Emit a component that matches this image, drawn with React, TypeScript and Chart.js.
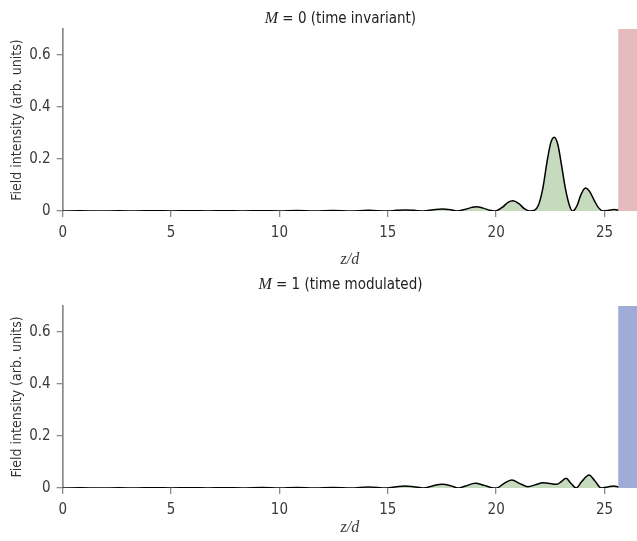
import { useEffect, useRef } from "react";
import { Chart, registerables } from "chart.js";

Chart.register(...registerables);

// Field intensity along the structure, time-invariant case (M = 0)
const zInvariant = [
  0, 0.8, 1.7, 2.6, 3.4, 4.2, 5.0, 5.9, 6.7, 7.5, 8.3, 9.2, 10.0, 10.8, 11.6, 12.5, 13.3,
  14.1, 14.95, 15.4, 15.8, 16.2, 16.65, 17.1, 17.5, 17.9, 18.18, 18.6, 18.9, 19.1, 19.4,
  19.7, 19.95, 20.3, 20.55, 20.78, 21.05, 21.3, 21.56, 21.75, 21.95, 22.15, 22.35, 22.52,
  22.68, 22.85, 23.02, 23.2, 23.38, 23.52, 23.62, 23.75, 23.9, 24.12, 24.32, 24.52, 24.72,
  24.95, 25.2, 25.45, 25.7, 26.0, 26.5,
];
const fieldInvariant = [
  0, 0.0005, 0, 0.0008, 0, 0.001, 0, 0.001, 0, 0.0012, 0, 0.0012, 0, 0.0015, 0, 0.0015, 0,
  0.0025, 0, 0.0025, 0.004, 0.0025, 0, 0.005, 0.008, 0.005, 0, 0.007, 0.014, 0.016, 0.011,
  0.003, 0, 0.015, 0.033, 0.039, 0.028, 0.009, 0, 0.002, 0.022, 0.085, 0.19, 0.262,
  0.284, 0.255, 0.175, 0.085, 0.022, 0, 0.005, 0.024, 0.06, 0.088, 0.074, 0.042, 0.013,
  0, 0.003, 0.006, 0.002, 0, 0,
];

// Field intensity along the structure, time-modulated case (M = 1)
const zModulated = [
  0, 0.8, 1.7, 2.6, 3.4, 4.2, 5.0, 5.9, 6.7, 7.5, 8.3, 9.2, 10.0, 10.8, 11.6, 12.5, 13.3,
  14.1, 14.95, 15.4, 15.8, 16.2, 16.65, 17.1, 17.5, 17.9, 18.25, 18.6, 19.03, 19.45,
  19.75, 20.03, 20.35, 20.72, 21.1, 21.47, 21.8, 22.17, 22.5, 22.8, 23.0, 23.23, 23.45,
  23.69, 23.95, 24.29, 24.55, 24.85, 25.15, 25.41, 25.65, 26.0, 26.5,
];
const fieldModulated = [
  0, 0.0005, 0, 0.0008, 0, 0.001, 0, 0.0012, 0, 0.0012, 0, 0.0015, 0, 0.0018, 0, 0.002, 0,
  0.004, 0, 0.005, 0.008, 0.005, 0, 0.009, 0.014, 0.009, 0, 0.008, 0.018, 0.01,
  0.002, 0, 0.017, 0.031, 0.017, 0.005, 0.012, 0.02, 0.017, 0.014, 0.024, 0.037, 0.018,
  0, 0.025, 0.05, 0.028, 0, 0.004, 0.008, 0.004, 0, 0,
];

const xTicks = [0, 5, 10, 15, 20, 25];
const yTicks = [0, 0.2, 0.4, 0.6];
const slabStart = 25.63;
const slabEnd = 26.5;
const yMax = 0.7;

const SANS = "'Liberation Sans Narrow', 'Arial Narrow', 'DejaVu Sans Condensed', sans-serif";
const SERIF = "'Liberation Serif', 'DejaVu Serif', serif";
const TEXT = "#3a3a3a";
const AXIS = "#8a8a8a";
const FILL = "#c6dbbd";

// Title with an italic math symbol followed by plain text, centred over the field region
const mathTitle = {
  id: "mathTitle",
  afterDraw(chart: any, _args: any, opts: any) {
    const { ctx, scales } = chart;
    const x = scales.x;
    const cx = (x.getPixelForValue(0) + x.getPixelForValue(slabStart)) / 2;
    ctx.save();
    ctx.textBaseline = "alphabetic";
    ctx.textAlign = "left";
    ctx.fillStyle = "#222222";
    const symFont = `italic 16px ${SERIF}`;
    const restFont = `15px ${SANS}`;
    ctx.font = symFont;
    const wSym = ctx.measureText(opts.symbol).width;
    ctx.font = restFont;
    const wRest = ctx.measureText(opts.rest).width;
    let left = cx - (wSym + wRest) / 2;
    ctx.font = symFont;
    ctx.fillText(opts.symbol, left, opts.baseline);
    left += wSym;
    ctx.font = restFont;
    ctx.fillText(opts.rest, left, opts.baseline);
    ctx.restore();
  },
};

function buildConfig(
  z: number[],
  field: number[],
  slabColor: string,
  symbol: string,
  rest: string,
  layout: { top: number; xHeight: number; titleBaseline: number; xTitlePad: number }
): any {
  return {
    type: "line",
    data: {
      datasets: [
        {
          data: [
            { x: slabStart, y: yMax },
            { x: slabEnd, y: yMax },
          ],
          fill: "origin",
          backgroundColor: slabColor,
          borderWidth: 0,
          pointRadius: 0,
        },
        {
          data: z.map((v, i) => ({ x: v, y: field[i] })),
          fill: "origin",
          backgroundColor: FILL,
          borderColor: "#000000",
          borderWidth: 1.5,
          pointRadius: 0,
          cubicInterpolationMode: "monotone",
        },
      ],
    },
    options: {
      animation: false,
      responsive: false,
      maintainAspectRatio: false,
      layout: { padding: { top: layout.top, left: 0, right: 0, bottom: 0 } },
      plugins: {
        legend: { display: false },
        tooltip: { enabled: false },
        mathTitle: { symbol: symbol, rest: rest, baseline: layout.titleBaseline },
      },
      scales: {
        x: {
          type: "linear",
          min: 0,
          max: slabEnd,
          afterBuildTicks: (s: any) => {
            s.ticks = xTicks.map((v) => ({ value: v }));
          },
          afterFit: (s: any) => {
            s.height = layout.xHeight;
          },
          border: { display: false },
          grid: { drawOnChartArea: false, tickLength: 6, color: AXIS, lineWidth: 1.3 },
          ticks: {
            color: TEXT,
            padding: 7,
            maxRotation: 0,
            font: { family: SANS, size: 15 },
            callback: (v: any) => String(v),
          },
          title: {
            display: true,
            text: "z/d",
            color: TEXT,
            font: { family: SERIF, style: "italic", size: 16 },
            padding: { top: 0, bottom: layout.xTitlePad },
          },
        },
        y: {
          min: 0,
          max: yMax,
          afterBuildTicks: (s: any) => {
            s.ticks = yTicks.map((v) => ({ value: v }));
          },
          afterFit: (s: any) => {
            s.width = 62.7;
          },
          border: { display: true, color: AXIS, width: 1.7 },
          grid: { drawOnChartArea: false, tickLength: 6, color: AXIS, lineWidth: 1.3 },
          ticks: {
            color: TEXT,
            padding: 6,
            font: { family: SANS, size: 15 },
            callback: (v: any) => (v === 0 ? "0" : Number(v).toFixed(1)),
          },
          title: {
            display: true,
            text: "Field intensity (arb. units)",
            color: "#333333",
            font: { family: SANS, size: 14 },
            padding: { top: 9, bottom: 0 },
          },
        },
      },
    },
    plugins: [mathTitle],
  };
}

function FieldPanel(props: {
  z: number[];
  field: number[];
  slabColor: string;
  symbol: string;
  rest: string;
  height: number;
  layout: { top: number; xHeight: number; titleBaseline: number; xTitlePad: number };
}) {
  const ref = useRef<HTMLCanvasElement | null>(null);
  useEffect(() => {
    if (!ref.current) return;
    const chart = new Chart(
      ref.current,
      buildConfig(props.z, props.field, props.slabColor, props.symbol, props.rest, props.layout)
    );
    return () => chart.destroy();
  }, []);
  return (
    <canvas
      ref={ref}
      width={637}
      height={props.height}
      style={{ display: "block", width: 637, height: props.height }}
    />
  );
}

export default function App() {
  return (
    <div
      style={{
        position: "absolute",
        left: 0,
        top: 0,
        width: 637,
        height: 541,
        background: "#ffffff",
      }}
    >
      <FieldPanel
        z={zInvariant}
        field={fieldInvariant}
        slabColor="#e4bcbd"
        symbol="M"
        rest=" = 0 (time invariant)"
        height={270}
        layout={{ top: 29, xHeight: 59, titleBaseline: 22.5, xTitlePad: 1 }}
      />
      <FieldPanel
        z={zModulated}
        field={fieldModulated}
        slabColor="#a0acd8"
        symbol="M"
        rest=" = 1 (time modulated)"
        height={271}
        layout={{ top: 35.7, xHeight: 53, titleBaseline: 19, xTitlePad: 4 }}
      />
    </div>
  );
}
